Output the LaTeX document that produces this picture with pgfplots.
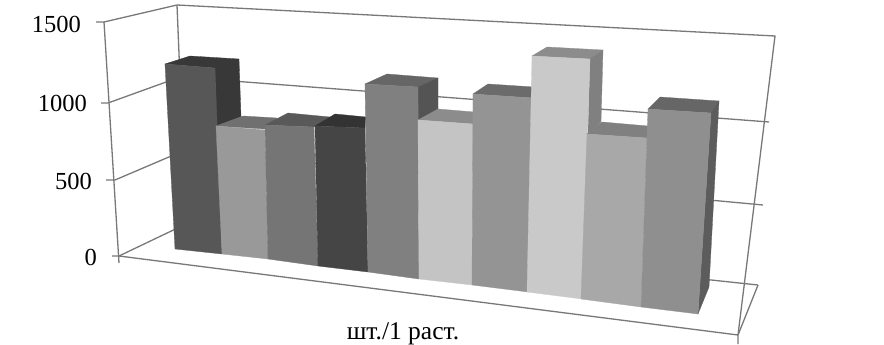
\documentclass[border=0pt]{standalone}
\usepackage{fontspec}
\setmainfont{Liberation Serif}
\usepackage{pgfplots}
\pgfplotsset{compat=1.18}
\newcommand{\face}[2]{\addplot[fill=#1,draw=#1,line width=0.3pt] coordinates {#2} --cycle;}
\newcommand{\wire}[1]{\addplot[draw=gridc,line width=1.3pt] coordinates {#1};}
\definecolor{gridc}{HTML}{787878}
\begin{document}
\begin{tikzpicture}
\begin{axis}[
  scale only axis,width=884pt,height=344pt,
  xmin=0,xmax=884,ymin=0,ymax=344,y dir=reverse,
  hide axis,clip=false,
  every axis plot/.append style={mark=none},
]
\path (axis cs:0,0) rectangle (axis cs:884,344);
% frame: side wall, back wall, floor
\wire{(104,22)(177,5)(775,36)(738,335)}
\wire{(177,5)(186,224)}
\wire{(96,22)(104,22)(119,263)}
\wire{(101,103)(108,103)(180,77)(769,122)}
\wire{(106,180)(115,180)(183,151)(763,205)}
\wire{(112,256)(119,256)(186,224)(758,285)}
\wire{(119,256)(738,335)(738,344)}
\wire{(758,285)(738,335)}
% bar 1
\face{black!78}{(190,56)(239,59)(241,117)(216,126)(215,68)(165,64)}
\face{black!66}{(165,64)(215,68)(222,254)(175,249)}
% bar 2
\face{black!56}{(216,126)(243,116)(277,118)(265,129)}
\face{black!40}{(216,126)(265,130)(268,259)(222,254)}
% bar 3
\face{black!65}{(265,125)(288,113)(330,117)(314,127)}
\face{black!54}{(265,125)(314,127)(318,266)(268,259)}
% bar 4
\face{black!80}{(315,126)(335,114)(366,117)(365,128)}
\face{black!73}{(315,126)(365,128)(368,272)(318,266)}
% bar 5
\face{black!60}{(365,84)(387,74)(438,78)(418,87)}
\face{black!67}{(418,87)(438,78)(438,110)(418,120)}
\face{black!50}{(365,84)(418,87)(419,279)(368,272)}
% bar 6
\face{black!45}{(418,120)(438,109)(474,112)(473,124)}
\face{black!23}{(418,120)(473,124)(472,285)(419,279)}
% bar 7
\face{black!58}{(473,94)(488,84)(534,87)(533,98)}
\face{black!42}{(473,94)(533,98)(528,292)(472,285)}
% bar 8
\face{black!45}{(532,56)(547,47)(603,50)(590,59)}
\face{black!50}{(590,59)(603,50)(601,122)(588,134)}
\face{black!21}{(532,56)(590,59)(582,299)(527,292)}
% bar 9
\face{black!50}{(587,134)(602,122)(648,126)(647,138)}
\face{black!34}{(587,134)(647,138)(641,307)(581,299)}
% bar 10
\face{black!60}{(648,109)(660,97)(719,101)(711,113)}
\face{black!64}{(711,113)(719,101)(709,287)(698,314)}
\face{black!44}{(648,109)(711,113)(698,314)(641,307)}
% labels
\node[anchor=east,font=\fontsize{24.5}{24.5}\selectfont,inner sep=0pt] at (axis cs:81,24) {1500};
\node[anchor=east,font=\fontsize{24.5}{24.5}\selectfont,inner sep=0pt] at (axis cs:87,103) {1000};
\node[anchor=east,font=\fontsize{24.5}{24.5}\selectfont,inner sep=0pt] at (axis cs:92,181) {500};
\node[anchor=east,font=\fontsize{24.5}{24.5}\selectfont,inner sep=0pt] at (axis cs:97,257) {0};
\node[anchor=base,font=\fontsize{25.5}{25.5}\selectfont,inner sep=0pt] at (axis cs:403,339) {шт./1 раст.};
\end{axis}
\end{tikzpicture}
\end{document}
